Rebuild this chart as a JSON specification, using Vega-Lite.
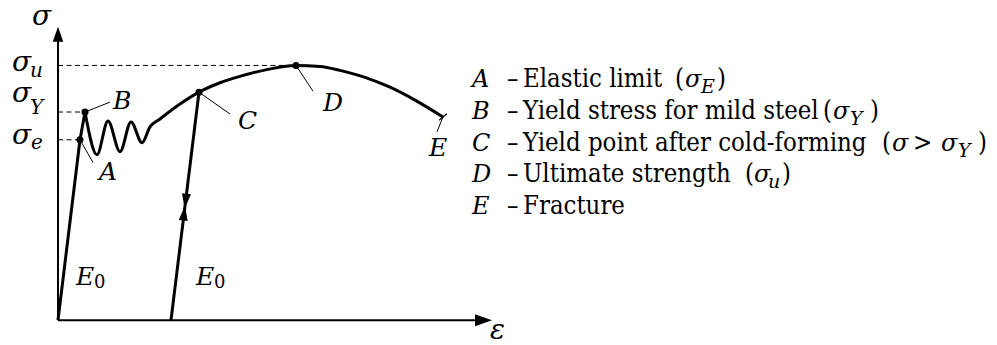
{
  "$schema": "https://vega.github.io/schema/vega-lite/v6.json",
  "width": 997,
  "height": 345,
  "autosize": {"type": "fit", "contains": "padding"},
  "padding": 0,
  "background": "white",
  "config": {"view": {"stroke": null}},
  "datasets": {
    "guides": [
      {"level": "sigma_u", "strain": 0, "stress": 514, "strain2": 11.9, "stress2": 514},
      {"level": "sigma_Y", "strain": 0, "stress": 420, "strain2": 1.35, "stress2": 420},
      {"level": "sigma_e", "strain": 0, "stress": 364, "strain2": 1.1, "stress2": 364}
    ],
    "axes": [
      {"axis": "strain", "strain": 0, "stress": 0, "strain2": 21.0, "stress2": 0},
      {"axis": "stress", "strain": 0, "stress": 0, "strain2": 0, "stress2": 566}
    ],
    "arrow_up": [{"strain": 0, "stress": 577}],
    "arrow_right": [{"strain": 21.275, "stress": 0}],
    "elastic": [
      {"strain": 0, "stress": 0},
      {"strain": 1.1, "stress": 364},
      {"strain": 1.35, "stress": 420}
    ],
    "plastic": [
      {"strain": 1.35, "stress": 420},
      {"strain": 1.95, "stress": 334},
      {"strain": 2.5, "stress": 402},
      {"strain": 3.1, "stress": 340},
      {"strain": 3.65, "stress": 400},
      {"strain": 4.2, "stress": 358},
      {"strain": 4.6, "stress": 390},
      {"strain": 5.1, "stress": 406},
      {"strain": 6.1, "stress": 436},
      {"strain": 7.05, "stress": 460},
      {"strain": 8.1, "stress": 479},
      {"strain": 9.1, "stress": 492},
      {"strain": 10.5, "stress": 506},
      {"strain": 11.9, "stress": 514},
      {"strain": 13.1, "stress": 512},
      {"strain": 14.1, "stress": 504},
      {"strain": 15.35, "stress": 490},
      {"strain": 16.6, "stress": 470},
      {"strain": 17.85, "stress": 444},
      {"strain": 19.25, "stress": 410}
    ],
    "unloading": [
      {"strain": 5.65, "stress": 0},
      {"strain": 7.05, "stress": 460}
    ],
    "unload_dir": [{"strain": 6.378, "stress": 240}],
    "reload_dir": [{"strain": 6.306, "stress": 216}],
    "points": [
      {"name": "A", "strain": 1.1, "stress": 364},
      {"name": "B", "strain": 1.35, "stress": 420},
      {"name": "C", "strain": 7.05, "stress": 460},
      {"name": "D", "strain": 11.9, "stress": 514}
    ],
    "fracture": [{"name": "E", "strain": 19.25, "stress": 410}],
    "leaders": [
      {"name": "A", "strain": 1.1, "stress": 364, "strain2": 1.75, "stress2": 318},
      {"name": "B", "strain": 1.35, "stress": 420, "strain2": 2.6, "stress2": 440},
      {"name": "C", "strain": 7.05, "stress": 460, "strain2": 8.6, "stress2": 416},
      {"name": "D", "strain": 11.9, "stress": 514, "strain2": 12.75, "stress2": 462},
      {"name": "E", "strain": 19.25, "stress": 410, "strain2": 18.95, "stress2": 380}
    ],
    "point_labels": [
      {"label": "A", "strain": 2.05, "stress": 282},
      {"label": "B", "strain": 2.75, "stress": 426},
      {"label": "C", "strain": 9.0, "stress": 386},
      {"label": "D", "strain": 13.25, "stress": 422},
      {"label": "E", "strain": 18.55, "stress": 332},
      {"label": "E", "strain": 0.9, "stress": 72},
      {"label": "E", "strain": 6.9, "stress": 72}
    ],
    "modulus_subs": [
      {"label": "0", "strain": 1.8, "stress": 64},
      {"label": "0", "strain": 7.8, "stress": 64}
    ],
    "symbols": [
      {"label": "σ", "strain": -1.3, "stress": 596},
      {"label": "ε", "strain": 21.6, "stress": -38},
      {"label": "σ", "strain": -2.3, "stress": 502},
      {"label": "σ", "strain": -2.3, "stress": 440},
      {"label": "σ", "strain": -2.3, "stress": 356}
    ],
    "symbol_subs": [
      {"label": "u", "strain": -1.4, "stress": 490},
      {"label": "Y", "strain": -1.4, "stress": 416},
      {"label": "e", "strain": -1.35, "stress": 346}
    ],
    "legend_keys": [
      {"label": "A", "strain": 20.7, "stress": 470},
      {"label": "B", "strain": 20.7, "stress": 406},
      {"label": "C", "strain": 20.7, "stress": 342},
      {"label": "D", "strain": 20.7, "stress": 278},
      {"label": "E", "strain": 20.7, "stress": 214}
    ],
    "legend_text": [
      {"label": "–", "strain": 22.45, "stress": 470},
      {"label": "–", "strain": 22.45, "stress": 406},
      {"label": "–", "strain": 22.45, "stress": 342},
      {"label": "–", "strain": 22.45, "stress": 278},
      {"label": "–", "strain": 22.45, "stress": 214},
      {"label": "Elastic limit", "strain": 23.25, "stress": 470},
      {"label": "Yield stress for mild steel", "strain": 23.25, "stress": 406},
      {"label": "Yield point after cold-forming", "strain": 23.25, "stress": 342},
      {"label": "Ultimate strength", "strain": 23.25, "stress": 278},
      {"label": "Fracture", "strain": 23.25, "stress": 214},
      {"label": "(", "strain": 30.85, "stress": 470},
      {"label": ")", "strain": 32.95, "stress": 470},
      {"label": "(", "strain": 38.25, "stress": 406},
      {"label": ")", "strain": 40.6, "stress": 406},
      {"label": "(", "strain": 41.2, "stress": 342},
      {"label": ">", "strain": 42.75, "stress": 342},
      {"label": ")", "strain": 46.0, "stress": 342},
      {"label": "(", "strain": 34.35, "stress": 278},
      {"label": ")", "strain": 36.2, "stress": 278}
    ],
    "legend_sigma": [
      {"label": "σ", "strain": 31.35, "stress": 470},
      {"label": "σ", "strain": 38.75, "stress": 406},
      {"label": "σ", "strain": 41.7, "stress": 342},
      {"label": "σ", "strain": 44.15, "stress": 342},
      {"label": "σ", "strain": 34.8, "stress": 278}
    ],
    "legend_subs": [
      {"label": "E", "strain": 32.15, "stress": 458},
      {"label": "Y", "strain": 39.6, "stress": 394},
      {"label": "Y", "strain": 45.0, "stress": 330},
      {"label": "u", "strain": 35.5, "stress": 266}
    ]
  },
  "encoding": {
    "x": {"field": "strain", "type": "quantitative", "axis": null,
          "scale": {"domain": [-2.9, 46.95], "nice": false, "zero": false}},
    "y": {"field": "stress", "type": "quantitative", "axis": null,
          "scale": {"domain": [-44, 646], "nice": false, "zero": false}}
  },
  "layer": [
    {
      "data": {"name": "guides"},
      "mark": {"type": "rule", "color": "black", "strokeWidth": 1, "strokeDash": [5, 3.5]},
      "encoding": {"x2": {"field": "strain2"}, "y2": {"field": "stress2"}}
    },
    {
      "data": {"name": "axes"},
      "mark": {"type": "rule", "color": "black", "strokeWidth": 2},
      "encoding": {"x2": {"field": "strain2"}, "y2": {"field": "stress2"}}
    },
    {
      "data": {"name": "arrow_up"},
      "mark": {"type": "point", "shape": "M0,-1L0.7,1L-0.7,1Z", "size": 225, "filled": true, "color": "black", "opacity": 1, "strokeWidth": 0}
    },
    {
      "data": {"name": "arrow_right"},
      "mark": {"type": "point", "shape": "M1,0L-1,0.7L-1,-0.7Z", "size": 289, "filled": true, "color": "black", "opacity": 1, "strokeWidth": 0}
    },
    {
      "data": {"name": "elastic"},
      "mark": {"type": "line", "color": "black", "strokeWidth": 3, "strokeJoin": "round"}
    },
    {
      "data": {"name": "plastic"},
      "mark": {"type": "line", "color": "black", "strokeWidth": 3, "interpolate": "monotone", "strokeJoin": "round"}
    },
    {
      "data": {"name": "unloading"},
      "mark": {"type": "line", "color": "black", "strokeWidth": 3}
    },
    {
      "data": {"name": "unload_dir"},
      "mark": {"type": "point", "shape": "M0,1L0.6,-1L-0.6,-1Z", "size": 225, "angle": 7, "filled": true, "color": "black", "opacity": 1, "strokeWidth": 0}
    },
    {
      "data": {"name": "reload_dir"},
      "mark": {"type": "point", "shape": "M0,-1L0.6,1L-0.6,1Z", "size": 225, "angle": 7, "filled": true, "color": "black", "opacity": 1, "strokeWidth": 0}
    },
    {
      "data": {"name": "leaders"},
      "mark": {"type": "rule", "color": "black", "strokeWidth": 1},
      "encoding": {"x2": {"field": "strain2"}, "y2": {"field": "stress2"}}
    },
    {
      "data": {"name": "points"},
      "mark": {"type": "circle", "size": 50, "color": "black", "opacity": 1}
    },
    {
      "data": {"name": "fracture"},
      "mark": {"type": "point", "shape": "stroke", "size": 100, "angle": -40, "color": "black", "strokeWidth": 1.3, "opacity": 1}
    },
    {
      "data": {"name": "point_labels"},
      "mark": {"type": "text", "font": "DejaVu Serif", "fontStyle": "italic", "fontSize": 25, "align": "left", "baseline": "alphabetic", "color": "black"},
      "encoding": {"text": {"field": "label", "type": "nominal"}}
    },
    {
      "data": {"name": "modulus_subs"},
      "mark": {"type": "text", "font": "DejaVu Serif", "fontSize": 18, "align": "left", "baseline": "alphabetic", "color": "black"},
      "encoding": {"text": {"field": "label", "type": "nominal"}}
    },
    {
      "data": {"name": "symbols"},
      "mark": {"type": "text", "font": "DejaVu Serif", "fontStyle": "italic", "fontSize": 28, "align": "left", "baseline": "alphabetic", "color": "black"},
      "encoding": {"text": {"field": "label", "type": "nominal"}}
    },
    {
      "data": {"name": "symbol_subs"},
      "mark": {"type": "text", "font": "DejaVu Serif", "fontStyle": "italic", "fontSize": 20, "align": "left", "baseline": "alphabetic", "color": "black"},
      "encoding": {"text": {"field": "label", "type": "nominal"}}
    },
    {
      "data": {"name": "legend_keys"},
      "mark": {"type": "text", "font": "DejaVu Serif", "fontStyle": "italic", "fontSize": 24, "align": "left", "baseline": "alphabetic", "color": "black"},
      "encoding": {"text": {"field": "label", "type": "nominal"}}
    },
    {
      "data": {"name": "legend_text"},
      "mark": {"type": "text", "font": "DejaVu Serif Condensed, DejaVu Serif", "fontSize": 25.5, "align": "left", "baseline": "alphabetic", "color": "black"},
      "encoding": {"text": {"field": "label", "type": "nominal"}}
    },
    {
      "data": {"name": "legend_sigma"},
      "mark": {"type": "text", "font": "DejaVu Serif", "fontStyle": "italic", "fontSize": 24, "align": "left", "baseline": "alphabetic", "color": "black"},
      "encoding": {"text": {"field": "label", "type": "nominal"}}
    },
    {
      "data": {"name": "legend_subs"},
      "mark": {"type": "text", "font": "DejaVu Serif", "fontStyle": "italic", "fontSize": 19, "align": "left", "baseline": "alphabetic", "color": "black"},
      "encoding": {"text": {"field": "label", "type": "nominal"}}
    }
  ]
}
